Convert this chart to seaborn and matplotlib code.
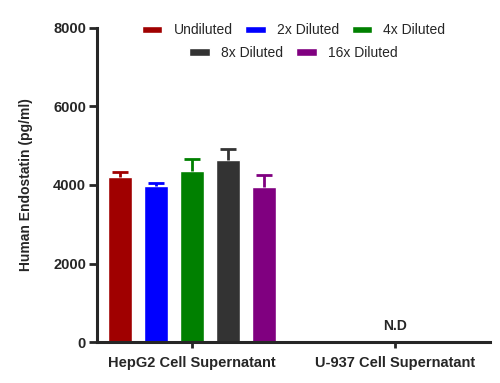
import matplotlib
matplotlib.use("Agg")
import matplotlib.pyplot as plt
from matplotlib.patches import Patch
import pandas as pd
import seaborn as sns

groups = ['HepG2 Cell Supernatant', 'U-937 Cell Supernatant']
dilutions = ['Undiluted', '2x Diluted', '4x Diluted', '8x Diluted', '16x Diluted']
colors = ['#A00000', '#0000FF', '#008000', '#333333', '#800080']
hepg2_mean = [4200, 3975, 4360, 4640, 3950]
hepg2_err = [135, 85, 290, 280, 300]
u937_mean = [0, 0, 0, 0, 0]
u937_err = [0, 0, 0, 0, 0]
y_ticks = [0, 2000, 4000, 6000, 8000]

rows = []
for d, m in zip(dilutions, hepg2_mean):
    rows.append({'group': groups[0], 'dilution': d, 'value': m})
for d, m in zip(dilutions, u937_mean):
    rows.append({'group': groups[1], 'dilution': d, 'value': m})
df = pd.DataFrame(rows)
errs = {groups[0]: hepg2_err, groups[1]: u937_err}

sns.set_style('ticks')
plt.rcParams['font.family'] = ['Liberation Sans', 'DejaVu Sans']

fig = plt.figure(figsize=(5, 3.83), dpi=100)
ax = fig.add_axes([0.194, 0.107, 0.786, 0.820])

sns.barplot(data=df, x='group', y='value', hue='dilution', hue_order=dilutions,
            palette=colors, width=0.885, gap=0.333, errorbar=None,
            saturation=1, legend=False, ax=ax)

# upper-only error bars (copy list: errorbar adds containers)
bar_containers = list(ax.containers)
for i, cont in enumerate(bar_containers):
    for j, bar in enumerate(cont):
        e = errs[groups[j]][i]
        if e > 0:
            _, caps, _ = ax.errorbar(bar.get_x() + bar.get_width() / 2, bar.get_height(),
                                     yerr=[[0], [e]], color=colors[i], capsize=6,
                                     capthick=2, elinewidth=2)
            caps[0].set_visible(False)

ax.text(1, 230, 'N.D', ha='center', va='bottom', fontsize=10, fontweight='bold')

ax.set_xlim(-0.468, 1.468)
ax.set_ylim(0, 8000)
ax.set_yticks(y_ticks)
ax.set_xlabel('')
ax.set_ylabel('Human Endostatin (pg/ml)', fontsize=10, fontweight='bold', labelpad=14)
for lab in ax.get_xticklabels() + ax.get_yticklabels():
    lab.set_fontweight('bold')
ax.tick_params(axis='y', length=6, width=2, labelsize=10.5, pad=2)
ax.tick_params(axis='x', length=4, width=2, labelsize=10.5, pad=6)
sns.despine(ax=ax)
for s in ['left', 'bottom']:
    ax.spines[s].set_linewidth(2.2)

handles = [Patch(facecolor=c, label=d) for c, d in zip(colors, dilutions)]
leg_kw = dict(frameon=False, fontsize=10, handlelength=1.5, handleheight=0.45,
              columnspacing=0.9, handletextpad=0.8, loc='center')
leg1 = ax.legend(handles=handles[:3], ncol=3, bbox_to_anchor=(0.5, 0.992), **leg_kw)
ax.add_artist(leg1)
ax.legend(handles=handles[3:], ncol=2, bbox_to_anchor=(0.5, 0.921), **leg_kw)

fig.savefig('out.png', dpi=100)
